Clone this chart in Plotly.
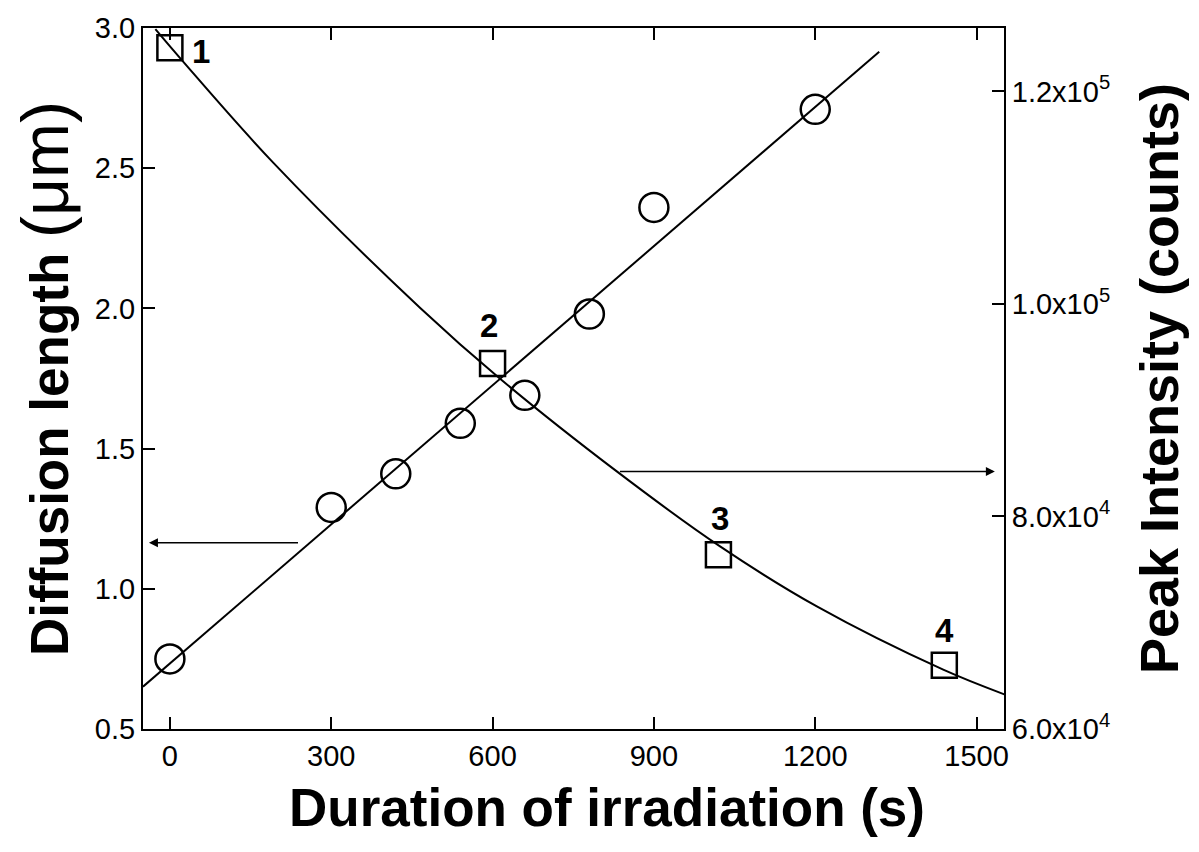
import plotly.graph_objects as go

# ---- data ----
time_circ = [0, 300, 420, 540, 660, 780, 900, 1200]
diff_len = [0.75, 1.29, 1.41, 1.59, 1.69, 1.98, 2.36, 2.71]

fit_line_x = [-50, 1319]
fit_line_y = [0.651, 2.915]

time_sq = [0, 600, 1020, 1440]
peak_int = [124100, 94400, 76400, 66000]
sq_labels = ["1", "2", "3", "4"]

decay_x = [-27, 23, 193, 466, 614, 831, 1023, 1203, 1438, 1553]
decay_y = [125860, 122900, 113250, 99600, 92960, 84240, 77180, 71530, 65580, 63230]

x_ticks = [0, 300, 600, 900, 1200, 1500]
y_ticks = [0.5, 1.0, 1.5, 2.0, 2.5, 3.0]
y2_ticks = [60000, 80000, 100000, 120000]
y2_ticktext = ["6.0x10<sup>4</sup>", "8.0x10<sup>4</sup>", "1.0x10<sup>5</sup>", "1.2x10<sup>5</sup>"]

FONT = "Liberation Sans, Arial, sans-serif"

fig = go.Figure()
fig.add_trace(go.Scatter(x=fit_line_x, y=fit_line_y, mode="lines",
                         line=dict(color="black", width=2), showlegend=False))
fig.add_trace(go.Scatter(x=time_circ, y=diff_len, mode="markers",
                         marker=dict(symbol="circle-open", size=29, color="black",
                                     line=dict(width=2.5, color="black")),
                         showlegend=False))
fig.add_trace(go.Scatter(x=decay_x, y=decay_y, mode="lines", yaxis="y2",
                         line=dict(color="black", width=2, shape="spline"),
                         showlegend=False))
fig.add_trace(go.Scatter(x=time_sq, y=peak_int, mode="markers", yaxis="y2",
                         marker=dict(symbol="square-open", size=25, color="black",
                                     line=dict(width=2.5, color="black")),
                         showlegend=False))

shifts = [(31, -4), (-4, 38), (2, 36), (0, 35)]
for xv, yv, lab, (dx, dy) in zip(time_sq, peak_int, sq_labels, shifts):
    fig.add_annotation(x=xv, y=yv, xref="x", yref="y2", text="<b>%s</b>" % lab,
                       showarrow=False, xshift=dx, yshift=dy,
                       font=dict(family=FONT, size=33, color="black"))

# arrows
fig.add_annotation(x=-39, y=1.164, ax=241, ay=1.164, xref="x", yref="y",
                   axref="x", ayref="y", text="", showarrow=True,
                   arrowhead=2, arrowsize=1.2, arrowwidth=1.5, arrowcolor="black")
fig.add_annotation(x=1534, y=84235, ax=834, ay=84235, xref="x", yref="y2",
                   axref="x", ayref="y2", text="", showarrow=True,
                   arrowhead=2, arrowsize=1.2, arrowwidth=1.5, arrowcolor="black")

# x-axis title (placed slightly right of centre, as in the reference)
fig.add_annotation(text="<b>Duration of irradiation (s)</b>", xref="paper", yref="paper",
                   x=0.539, y=-0.112, xanchor="center", yanchor="middle", showarrow=False,
                   font=dict(family=FONT, size=53, color="black"))

axis_common = dict(showgrid=False, zeroline=False, showline=True, linecolor="black",
                   linewidth=2, ticks="inside", ticklen=12, tickwidth=2, tickcolor="black",
                   automargin=False,
                   tickfont=dict(family=FONT, size=29, color="black"))

fig.update_layout(
    width=1191, height=844,
    margin=dict(l=135, r=195, t=20, b=123),
    paper_bgcolor="white", plot_bgcolor="white",
    font=dict(family=FONT, color="black"),
    xaxis=dict(range=[-50, 1551], tickvals=x_ticks, mirror="ticks", **axis_common),
    yaxis=dict(range=[0.5, 3.0], tickvals=y_ticks, tickformat=".1f",
               title=dict(text="<b>Diffusion length</b> <span style='font-size:66px'>(μm)</span>",
                          font=dict(family=FONT, size=53), standoff=32),
               **axis_common),
    yaxis2=dict(range=[60000, 125970], overlaying="y", side="right",
                tickvals=y2_ticks, ticktext=y2_ticktext,
                title=dict(text="<b>Peak Intensity (counts)</b>",
                           font=dict(family=FONT, size=54), standoff=31),
                **axis_common),
)

fig.write_html("out.html")
